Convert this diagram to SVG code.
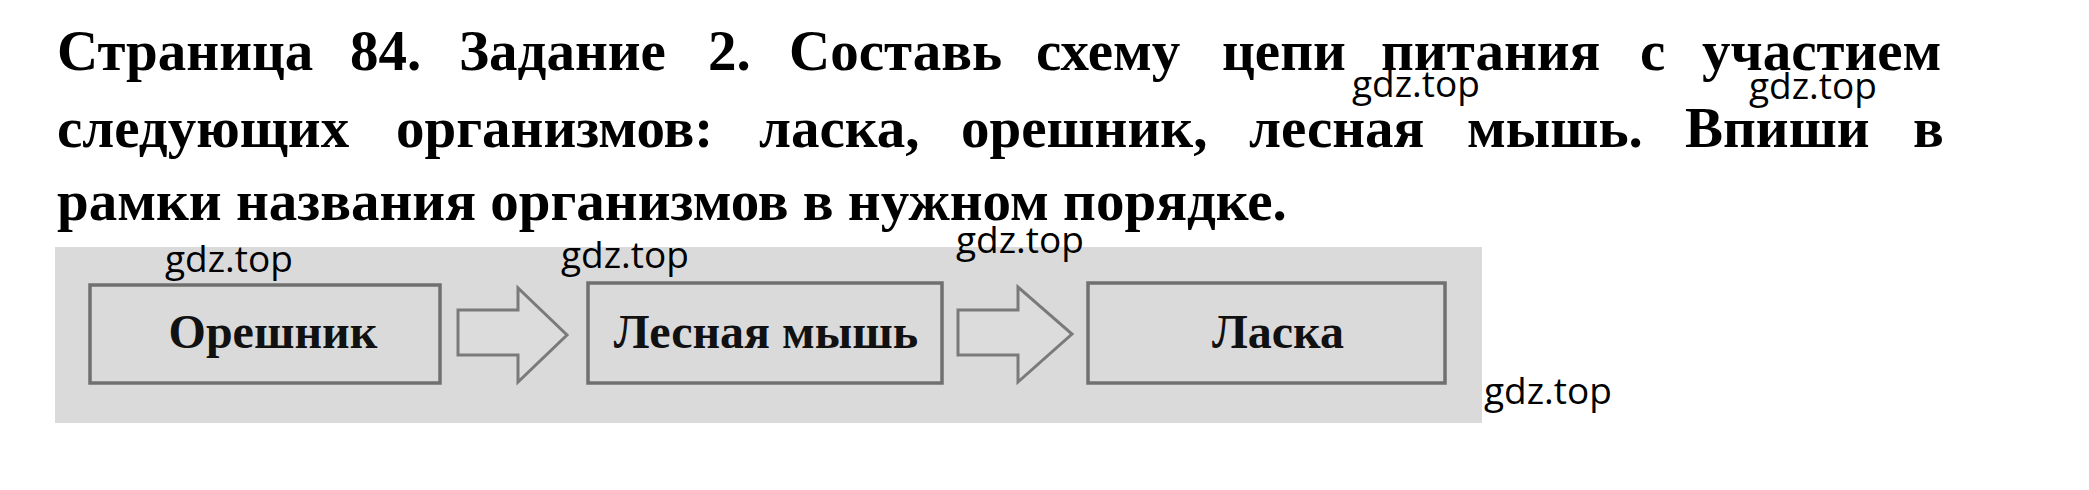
<svg xmlns="http://www.w3.org/2000/svg" width="2089" height="490" viewBox="0 0 2089 490">
<style>
.title{font-family:"Liberation Serif","Times New Roman",serif;font-weight:bold;font-size:57px;fill:#000}
.lbl{font-family:"Liberation Serif","Times New Roman",serif;font-weight:bold;font-size:48px;fill:#111;text-anchor:middle}
.wm{font-family:"Open Sans","Liberation Sans",sans-serif;font-size:37px;fill:#000}
.box{fill:#dadada;stroke:#707070;stroke-width:3.5}
.arr{fill:#dcdcdc;stroke:#7a7a7a;stroke-width:3;stroke-linejoin:miter}
</style>
<rect width="2089" height="490" fill="#fff"/>
<g id="title">
<text class="title" y="70"><tspan x="57">Страница</tspan><tspan x="350">84.</tspan><tspan x="459">Задание</tspan><tspan x="708">2.</tspan><tspan x="789">Составь</tspan><tspan x="1036">схему</tspan><tspan x="1222">цепи</tspan><tspan x="1381">питания</tspan><tspan x="1640">с</tspan><tspan x="1702">участием</tspan></text>
<text class="title" y="147"><tspan x="57">следующих</tspan><tspan x="396">организмов:</tspan><tspan x="759">ласка,</tspan><tspan x="961">орешник,</tspan><tspan x="1249">лесная</tspan><tspan x="1467">мышь.</tspan><tspan x="1685">Впиши</tspan><tspan x="1913">в</tspan></text>
<text class="title" x="57" y="220">рамки названия организмов в нужном порядке.</text>
</g>
<rect id="panel" x="55" y="247" width="1427" height="176" fill="#dadada"/>
<g id="connectors">
<polygon class="arr" points="458,310 518,310 518,288 567,335 518,382 518,355 458,355"/>
<polygon class="arr" points="958,310 1018,310 1018,287 1072,334 1018,382 1018,355 958,355"/>
</g>
<g id="node-oreshnik">
<rect class="box" x="90" y="285" width="350" height="98"/>
<text class="lbl" x="273" y="348">Орешник</text>
</g>
<g id="node-mouse">
<rect class="box" x="588" y="283" width="354" height="100"/>
<text class="lbl" x="766" y="348">Лесная мышь</text>
</g>
<g id="node-laska">
<rect class="box" x="1088" y="283" width="357" height="100"/>
<text class="lbl" x="1278" y="348">Ласка</text>
</g>
<g id="watermarks">
<text class="wm" x="1352" y="97">gdz.top</text>
<text class="wm" x="1749" y="99">gdz.top</text>
<text class="wm" x="165" y="272">gdz.top</text>
<text class="wm" x="561" y="268">gdz.top</text>
<text class="wm" x="956" y="253">gdz.top</text>
<text class="wm" x="1484" y="404">gdz.top</text>
</g>
</svg>
